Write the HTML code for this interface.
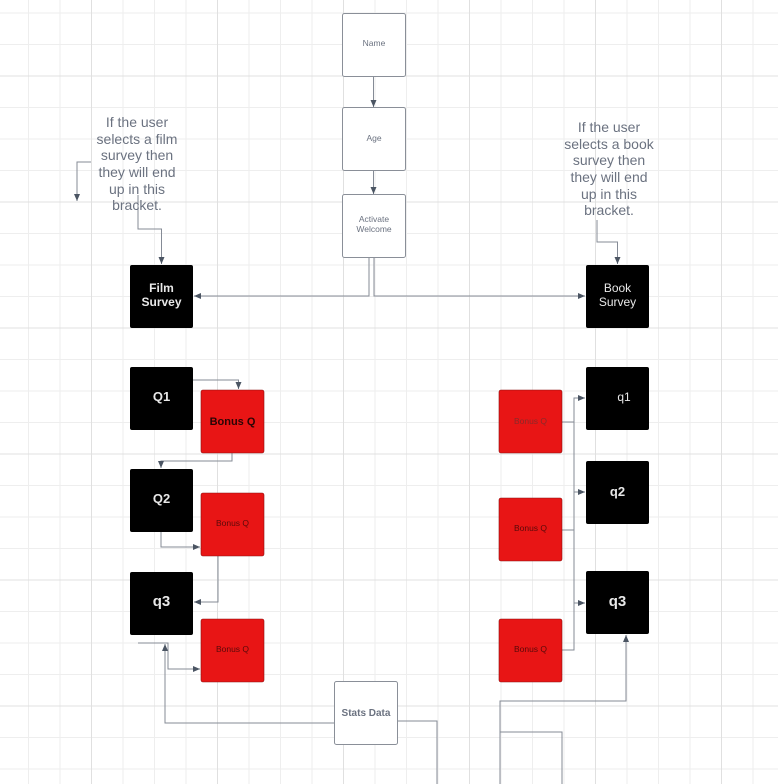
<!DOCTYPE html>
<html><head><style>
html,body{margin:0;padding:0;background:#fff;}
svg{display:block;font-family:"Liberation Sans",sans-serif;}
</style></head><body>
<svg width="778" height="784" viewBox="0 0 778 784" xmlns="http://www.w3.org/2000/svg">
<defs>
<pattern id="minor" x="-3.5" y="12.5" width="31.5" height="31.5" patternUnits="userSpaceOnUse">
<path d="M0.5 0 V31.5 M0 0.5 H31.5" stroke="#eeeeee" stroke-width="1" fill="none"/>
</pattern>
<pattern id="major" x="-3.5" y="12.5" width="126" height="126" patternUnits="userSpaceOnUse">
<path d="M95 0 V126 M0 63.5 H126" stroke="#e0e0e0" stroke-width="1" fill="none"/>
</pattern>
<marker id="a" markerWidth="8" markerHeight="8" refX="7" refY="4" orient="auto" markerUnits="userSpaceOnUse">
<path d="M0,1 L7,4 L0,7 Z" fill="#4b5563"/>
</marker>
</defs>
<rect width="778" height="784" fill="url(#minor)"/>
<rect width="778" height="784" fill="url(#major)"/>

<g fill="none" stroke="#858b96" stroke-width="1">
<path d="M373.5 76 V107" marker-end="url(#a)"/>
<path d="M373.5 170 V194" marker-end="url(#a)"/>
<path d="M369 257 V296 H194" marker-end="url(#a)"/>
<path d="M374 257 V296 H585" marker-end="url(#a)"/>
<path d="M91 162 H77 V201" marker-end="url(#a)"/>
<path d="M138 195 V229 H161.5 V264" marker-end="url(#a)"/>
<path d="M597 220 V242 H617.5 V264" marker-end="url(#a)"/>
<path d="M193 380 H238.5 V389" marker-end="url(#a)"/>
<path d="M232 453 V461 H161 V468" marker-end="url(#a)"/>
<path d="M161 532 V547 H200" marker-end="url(#a)"/>
<path d="M218 556 V602 H194" marker-end="url(#a)"/>
<path d="M138 643 H168 V669 H200" marker-end="url(#a)"/>
<path d="M334 723 H165 V644" marker-end="url(#a)"/>
<path d="M397 721 H437 V784"/>
<path d="M562 422 H574 V398 H585" marker-end="url(#a)"/>
<path d="M574 398 V650 H562"/>
<path d="M562 530 H574"/>
<path d="M574 492 H585" marker-end="url(#a)"/>
<path d="M574 603 H585" marker-end="url(#a)"/>
<path d="M500 784 V701 H626 V635" marker-end="url(#a)"/>
<path d="M500 732 H562 V784"/>
</g>

<g stroke="#8a8f98" stroke-width="1" fill="#fff">
<rect x="342.5" y="13.5" width="63" height="63" rx="2"/>
<rect x="342.5" y="107.5" width="63" height="63" rx="2"/>
<rect x="342.5" y="194.5" width="63" height="63" rx="2"/>
<rect x="334.5" y="681.5" width="63" height="63" rx="2"/>
</g>
<g fill="#000">
<rect x="130" y="265" width="63" height="63" rx="2"/>
<rect x="586" y="265" width="63" height="63" rx="2"/>
<rect x="130" y="367" width="63" height="63" rx="2"/>
<rect x="130" y="469" width="63" height="63" rx="2"/>
<rect x="130" y="572" width="63" height="63" rx="2"/>
<rect x="586" y="367" width="63" height="63" rx="2"/>
<rect x="586" y="461" width="63" height="63" rx="2"/>
<rect x="586" y="571" width="63" height="63" rx="2"/>
</g>
<g fill="#e81515" stroke="#8a1010" stroke-width="0.6">
<rect x="201" y="390" width="63" height="63" rx="2"/>
<rect x="201" y="493" width="63" height="63" rx="2"/>
<rect x="201" y="619" width="63" height="63" rx="2"/>
<rect x="499" y="390" width="63" height="63" rx="2"/>
<rect x="499" y="498" width="63" height="63" rx="2"/>
<rect x="499" y="619" width="63" height="63" rx="2"/>
</g>

<g text-anchor="middle" fill="#6b7280">
<text x="374" y="46" font-size="8.5">Name</text>
<text x="374" y="141" font-size="8.5">Age</text>
<text x="374" y="222" font-size="8.5">Activate</text>
<text x="374" y="232" font-size="8.5">Welcome</text>
<text x="366" y="716" font-size="10" font-weight="bold">Stats Data</text>
<g font-size="14">
<text x="137" y="127">If the user</text>
<text x="137" y="144">selects a film</text>
<text x="137" y="160">survey then</text>
<text x="137" y="177">they will end</text>
<text x="137" y="194">up in this</text>
<text x="137" y="210">bracket.</text>
<text x="609" y="132">If the user</text>
<text x="609" y="149">selects a book</text>
<text x="609" y="165">survey then</text>
<text x="609" y="182">they will end</text>
<text x="609" y="199">up in this</text>
<text x="609" y="215">bracket.</text>
</g>
</g>
<g text-anchor="middle" fill="#e8e8e8">
<text x="161.5" y="292" font-size="12" font-weight="bold">Film</text>
<text x="161.5" y="306" font-size="12" font-weight="bold">Survey</text>
<text x="617.5" y="292" font-size="12">Book</text>
<text x="617.5" y="306" font-size="12">Survey</text>
<text x="161.5" y="401" font-size="13" font-weight="bold">Q1</text>
<text x="161.5" y="503" font-size="13" font-weight="bold">Q2</text>
<text x="161.5" y="606" font-size="15" font-weight="bold">q3</text>
<text x="624" y="401" font-size="12">q1</text>
<text x="617.5" y="496" font-size="13" font-weight="bold">q2</text>
<text x="617.5" y="606" font-size="15" font-weight="bold">q3</text>
</g>
<g text-anchor="middle" fill="#5a0a0a">
<text x="232.5" y="425" font-size="11" font-weight="bold" fill="#2a0505">Bonus Q</text>
<text x="232.5" y="526" font-size="8.5">Bonus Q</text>
<text x="232.5" y="652" font-size="8.5">Bonus Q</text>
<text x="530.5" y="424" font-size="8.5" fill="#8a2a2a">Bonus Q</text>
<text x="530.5" y="531" font-size="8.5">Bonus Q</text>
<text x="530.5" y="652" font-size="8.5">Bonus Q</text>
</g>
</svg>
</body></html>
